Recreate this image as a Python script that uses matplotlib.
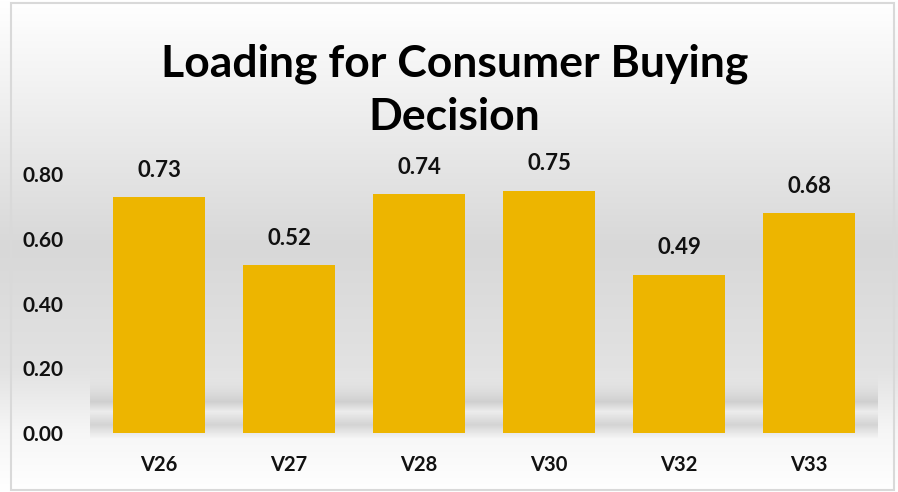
import numpy as np
import matplotlib.pyplot as plt
from matplotlib.colors import LinearSegmentedColormap

categories = ["V26", "V27", "V28", "V30", "V32", "V33"]
loadings = [0.73, 0.52, 0.74, 0.75, 0.49, 0.68]
y_ticks = [0.0, 0.2, 0.4, 0.6, 0.8]

plt.rcParams['font.family'] = ['Lato', 'DejaVu Sans']

fig = plt.figure(figsize=(8.98, 4.92), dpi=100)

# background gradient for the chart area
bg = fig.add_axes([0, 0, 1, 1], zorder=0)
bg_cmap = LinearSegmentedColormap.from_list(
    "bg", [(0.0, "#ffffff"), (0.15, "#f4f4f4"), (0.5, "#d8d8d8"),
           (0.75, "#e2e2e2"), (0.88, "#f6f6f6"), (1.0, "#ffffff")])
grad = np.linspace(0, 1, 256).reshape(-1, 1)
bg.imshow(grad, aspect="auto", cmap=bg_cmap, extent=[0, 1, 0, 1], origin="upper")
# soft floor shadow along the bottom of the plot area
shadow_cmap = LinearSegmentedColormap.from_list(
    "sh", [(0.0, "#e6e6e600"), (0.45, "#c6c6c6"), (0.6, "#ececec"),
           (0.8, "#cacaca"), (1.0, "#f4f4f4")])
bg.imshow(grad, aspect="auto", cmap=shadow_cmap,
          extent=[0.1, 0.977, 1 - 438 / 492, 1 - 372 / 492], origin="upper", alpha=0.75)
bg.set_xlim(0, 1)
bg.set_ylim(0, 1)
bg.axis("off")
fig.patches.append(plt.Rectangle((0.012, 0.004), 0.984, 0.99, transform=fig.transFigure,
                                 fill=False, edgecolor="#d9d9d9", linewidth=1.5))

ax = fig.add_axes([0.1047, 0.12, 0.8686, 0.591], zorder=1)
ax.patch.set_alpha(0)
x = np.arange(len(categories))
bars = ax.bar(x, loadings, width=0.715, color="#edb500")
for xi, v in zip(x, loadings):
    ax.text(xi, v + 0.05, f"{v:.2f}", ha="center", va="bottom",
            fontsize=16, fontweight="bold", color="#111111")

ax.set_xlim(-0.5, len(categories) - 0.5)
ax.set_ylim(0, 0.9)
ax.set_yticks(y_ticks)
ax.set_yticklabels([f"{t:.2f}" for t in y_ticks])
ax.set_xticks(x)
ax.set_xticklabels(categories)
ax.tick_params(axis="both", length=0, colors="#111111")
ax.tick_params(axis="y", pad=22, labelsize=15)
ax.tick_params(axis="x", pad=16, labelsize=14.5)
for lab in ax.get_xticklabels() + ax.get_yticklabels():
    lab.set_fontweight("bold")
for s in ax.spines.values():
    s.set_visible(False)

fig.text(0.506, 1 - 76 / 492, "Loading for Consumer Buying", ha="center", va="baseline",
         fontsize=32, fontweight="bold", color="#000000")
fig.text(0.506, 1 - 130 / 492, "Decision", ha="center", va="baseline",
         fontsize=32, fontweight="bold", color="#000000")

fig.savefig("out.png", dpi=100)
